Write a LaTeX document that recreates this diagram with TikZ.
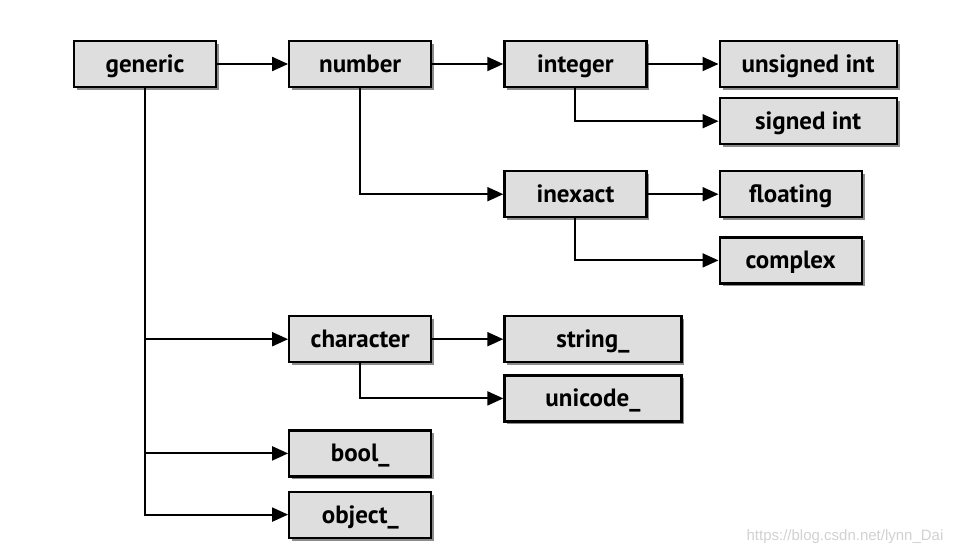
\documentclass[tikz,border=0pt]{standalone}
\usepackage{fontspec}
\setmainfont{PT Sans}
\newfontfamily\urlfont{Liberation Sans}
\usetikzlibrary{shapes, arrows.meta, positioning, shadows}
\tikzset{
  box/.style={draw, line width=2.2pt, fill=black!13, minimum width=142pt, minimum height=46pt,
    inner sep=2pt, text height=20pt, text depth=3pt, font=\fontsize{25}{27}\selectfont\bfseries,
    drop shadow={shadow xshift=3pt, shadow yshift=-3pt, fill=black, opacity=0.45}},
  widebox/.style={box, minimum width=177pt},
  arr/.style={line width=2pt, -{Triangle[length=16pt, width=14pt]}}
}

\begin{document}
\begin{tikzpicture}[x=1pt, y=1pt, node distance=9pt and 71pt]
			\useasboundingbox (0,0) rectangle (960,-554);
			\node[box] (generic) at (145,-64) {generic};
			\node[box, right =of generic] (number) {number};
			\node[box, right =of number] (integer) {integer};
			\node[widebox, right =of integer] (unsigned) {unsigned int};
				\node[widebox, below =of unsigned] (signed) {signed int};
			\node[box, below =82pt of integer] (inexact) {inexact};
				\node[box, right =of inexact] (floating) {floating};
				\node[box, below =18pt of floating] (complex) {complex};
			\node[box, below =227pt of number] (character) {character};
				\node[widebox, right =of character] (string) {string\_};
				\node[widebox, below =11pt of string] (unicode) {unicode\_};
			\node[box, below =66pt of character] (bool) {bool\_};
			\node[box, below =13pt of bool] (object) {object\_};
			\node[text=black!18, font=\urlfont\fontsize{15}{17}\selectfont] (watermark) at (845,-537) {https://blog.csdn.net/lynn\_Dai};
			\foreach \from/\to in {generic/number,number/integer,integer/unsigned,inexact/floating,character/string}
				\draw[arr] (\from) -- (\to);
			\foreach \from/\to in {integer/signed,number/inexact,inexact/complex,character/unicode,generic/character,generic/bool,generic/object}
				\draw[arr] (\from.south) |- (\to);
		\end{tikzpicture}
\end{document}
